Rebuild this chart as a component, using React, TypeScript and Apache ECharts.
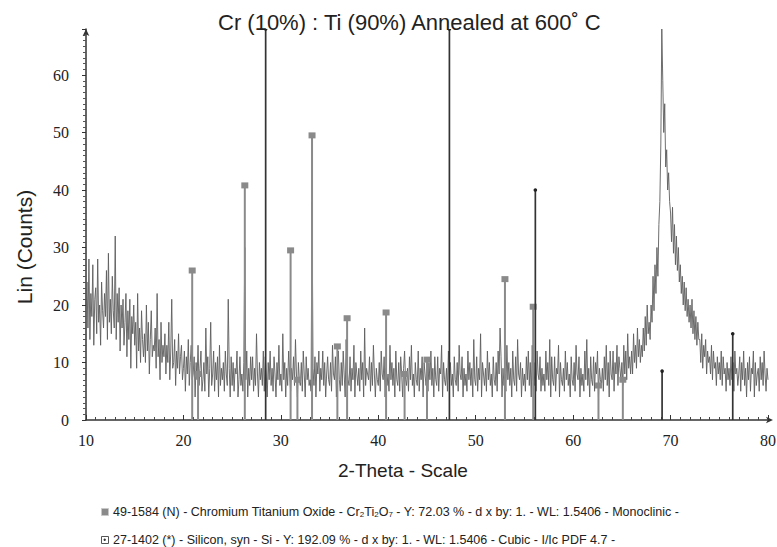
import React, { useEffect, useRef } from "react";
import * as echarts from "echarts";

const TITLE = "Cr (10%) : Ti (90%) Annealed at 600˚ C";
const X_NAME = "2-Theta - Scale";
const Y_NAME = "Lin (Counts)";
const LEGEND_1 = "49-1584 (N) - Chromium Titanium Oxide - Cr{s|2}Ti{s|2}O{s|7} - Y: 72.03 % - d x by: 1. - WL: 1.5406 - Monoclinic -";
const LEGEND_2 = "27-1402 (*) - Silicon, syn - Si - Y: 192.09 % - d x by: 1. - WL: 1.5406 - Cubic - I/Ic PDF 4.7 -";

const X_START = 10;
const X_STEP = 0.1;

// measured counts, 0.1° steps from 10.0 to 80.0 (one row per degree)
const counts: number[] = [
  20, 24, 16, 28, 14, 22, 18, 27, 13, 21,
  23, 15, 28, 17, 20, 13, 24, 19, 16, 22,
  18, 26, 14, 29, 17, 21, 15, 25, 19, 16,
  32, 14, 22, 17, 23, 12, 20, 16, 21, 13,
  17, 22, 11, 19, 14, 21, 9, 18, 15, 20,
  13, 17, 9, 22, 12, 16, 10, 19, 14, 11,
  15, 10, 20, 12, 17, 8, 14, 19, 11, 13,
  12, 16, 9, 22, 11, 14, 7, 17, 10, 13,
  11, 15, 8, 13, 10, 17, 7, 12, 21, 9,
  10, 14, 6, 12, 9, 15, 8, 11, 13, 7,
  9, 12, 5, 11, 8, 14, 6, 10, 13, 7,
  8, 11, 4, 10, 7, 13, 6, 9, 12, 5,
  7, 10, 5, 16, 8, 11, 4, 9, 17, 6,
  8, 12, 5, 10, 7, 11, 4, 13, 6, 9,
  7, 10, 5, 12, 8, 6, 21, 9, 4, 11,
  6, 10, 5, 9, 8, 12, 4, 7, 11, 6,
  8, 5, 10, 30, 7, 12, 4, 9, 6, 11,
  7, 11, 5, 9, 6, 15, 8, 4, 10, 7,
  9, 6, 12, 5, 11, 8, 4, 10, 7, 12,
  6, 9, 5, 11, 8, 4, 10, 7, 13, 6,
  8, 5, 15, 7, 10, 4, 9, 6, 12, 8,
  5, 9, 7, 11, 6, 14, 8, 4, 10, 7,
  6, 10, 5, 12, 8, 4, 11, 7, 9, 6,
  7, 5, 38, 9, 6, 11, 4, 10, 8, 12,
  5, 9, 7, 12, 6, 10, 4, 8, 11, 7,
  6, 10, 5, 13, 8, 7, 11, 4, 9, 12,
  7, 5, 10, 6, 12, 8, 4, 14, 9, 7,
  6, 11, 5, 9, 7, 13, 4, 10, 8, 6,
  9, 5, 12, 7, 10, 4, 16, 6, 9, 8,
  7, 11, 5, 10, 6, 13, 8, 4, 9, 7,
  6, 10, 5, 12, 8, 7, 11, 4, 9, 6,
  8, 5, 13, 7, 10, 6, 9, 4, 12, 7,
  6, 10, 5, 11, 8, 4, 9, 12, 7, 6,
  9, 5, 11, 7, 13, 6, 8, 4, 10, 7,
  6, 12, 5, 9, 7, 11, 4, 10, 8, 6,
  8, 5, 10, 7, 12, 6, 9, 4, 11, 7,
  6, 11, 5, 9, 8, 13, 4, 10, 7, 6,
  9, 5, 12, 7, 10, 6, 8, 4, 11, 7,
  6, 10, 5, 13, 8, 7, 11, 4, 9, 6,
  8, 5, 12, 7, 10, 6, 9, 4, 14, 7,
  6, 11, 5, 9, 7, 15, 4, 10, 8, 6,
  9, 5, 12, 7, 10, 6, 8, 4, 11, 7,
  6, 10, 5, 12, 8, 16, 11, 4, 9, 6,
  8, 5, 13, 7, 10, 6, 9, 4, 12, 7,
  6, 11, 5, 14, 8, 7, 10, 4, 9, 6,
  8, 5, 11, 7, 12, 6, 10, 4, 13, 7,
  6, 10, 5, 12, 8, 7, 11, 5, 9, 6,
  8, 5, 12, 7, 10, 6, 14, 4, 11, 7,
  6, 11, 5, 9, 8, 13, 4, 10, 7, 6,
  9, 5, 12, 7, 10, 6, 8, 4, 11, 7,
  6, 10, 5, 13, 8, 7, 11, 4, 9, 6,
  8, 5, 12, 7, 14, 6, 9, 4, 11, 7,
  6, 11, 5, 10, 8, 12, 4, 9, 7, 6,
  9, 5, 11, 7, 13, 6, 10, 4, 12, 8,
  7, 12, 5, 10, 8, 13, 6, 11, 9, 7,
  10, 6, 13, 8, 12, 7, 15, 9, 11, 8,
  12, 8, 15, 10, 13, 9, 16, 11, 14, 10,
  13, 11, 16, 12, 18, 13, 20, 15, 17, 14,
  20, 17, 25, 19, 27, 22, 30, 25, 34, 38,
  48, 68, 59, 50, 55, 44, 47, 40, 43, 38,
  36, 31, 37, 29, 34, 27, 32, 26, 30, 24,
  27, 22, 25, 20, 24, 19, 23, 18, 21, 17,
  20, 16, 21, 15, 19, 14, 18, 13, 17, 14,
  14, 10, 15, 9, 13, 11, 14, 8, 12, 10,
  11, 8, 13, 7, 12, 9, 10, 6, 11, 8,
  10, 7, 12, 6, 11, 8, 9, 5, 10, 7,
  9, 6, 11, 7, 10, 5, 12, 8, 9, 6,
  8, 11, 5, 10, 7, 12, 6, 9, 4, 10,
  7, 11, 5, 9, 8, 12, 4, 10, 6, 8,
  9, 5, 11, 7, 10, 6, 12, 8, 5, 9,
  7,
];

// reference stick pattern: Cr2Ti2O7 (49-1584)
const crPositions = [20.9, 21.5, 26.3, 31.0, 31.7, 33.2, 35.8, 36.8, 40.8, 42.7, 45.0, 53.0, 55.9, 62.6, 65.1];
const crIntensities = [26, 8, 40.8, 29.5, 7, 49.5, 12.8, 17.7, 18.7, 8, 10.5, 24.5, 19.7, 6, 7];

// reference stick pattern: Si (27-1402)
const siPositions = [28.44, 47.3, 56.12, 69.13, 76.38];
const siIntensities = [68, 68, 40, 8.5, 15];

const Y_TICKS = [0, 10, 20, 30, 40, 50, 60];
const X_TICKS = [10, 20, 30, 40, 50, 60, 70, 80];

export default function App() {
  const ref = useRef<HTMLDivElement>(null);
  useEffect(() => {
    if (!ref.current) return;
    const chart = echarts.init(ref.current, undefined, { renderer: "svg" });
    const lineData = counts.map((c, i) => [X_START + i * X_STEP, c]);
    const crData = crPositions.map((p, i) => [p, crIntensities[i]]);
    const siData = siPositions.map((p, i) => [p, siIntensities[i]]);

    const stick = (color: string, width: number, marker: "square" | "dot") =>
      (params: any, api: any) => {
        const x = api.value(0);
        const y = api.value(1);
        const p0 = api.coord([x, 0]);
        const p1 = api.coord([x, y]);
        const children: any[] = [
          {
            type: "line",
            shape: { x1: p0[0], y1: p0[1], x2: p1[0], y2: p1[1] },
            style: { stroke: color, lineWidth: width },
          },
        ];
        if (marker === "square") {
          children.push({
            type: "rect",
            shape: { x: p1[0] - 3.5, y: p1[1] - 3, width: 7, height: 6 },
            style: { fill: color },
          });
        } else {
          children.push({
            type: "circle",
            shape: { cx: p1[0], cy: p1[1], r: 1.8 },
            style: { fill: "#222" },
          });
        }
        return { type: "group", children };
      };

    const serif = "'Liberation Serif', 'Times New Roman', serif";
    const sans = "'Liberation Sans', Arial, sans-serif";

    chart.setOption({
      animation: false,
      title: {
        text: TITLE,
        left: 213,
        top: 6,
        textStyle: { fontFamily: sans, fontSize: 22, fontWeight: "normal", color: "#222" },
      },
      grid: {
        left: 86,
        right: 9,
        top: 29,
        bottom: 127,
        containLabel: false,
        outerBoundsMode: "none",
      },
      xAxis: {
        type: "value",
        min: X_TICKS[0],
        max: X_TICKS[X_TICKS.length - 1],
        interval: 10,
        axisLine: {
          show: true,
          lineStyle: { color: "#333", width: 1.5 },
          symbol: ["none", "arrow"],
          symbolSize: [5, 7],
          symbolOffset: [0, 5],
        },
        axisTick: { show: true, inside: true, length: 5, lineStyle: { color: "#333" } },
        minorTick: { show: true, splitNumber: 10, length: 3, lineStyle: { color: "#444" } },
        axisLabel: { fontFamily: serif, fontSize: 16, color: "#222", margin: 12 },
        splitLine: { show: false },
      },
      yAxis: {
        type: "value",
        min: 0,
        max: 68,
        interval: 10,
        axisLine: {
          show: true,
          lineStyle: { color: "#333", width: 1.5 },
          symbol: ["none", "arrow"],
          symbolSize: [5, 7],
        },
        axisTick: { show: true, length: 4, lineStyle: { color: "#333" } },
        minorTick: { show: true, splitNumber: 10, length: 3, lineStyle: { color: "#555" } },
        axisLabel: {
          fontFamily: serif,
          fontSize: 16,
          color: "#222",
          margin: 17,
          formatter: (v: number) => (Y_TICKS.includes(v) ? String(v) : ""),
        },
        splitLine: { show: false },
      },
      series: [
        {
          type: "line",
          data: lineData,
          showSymbol: false,
          symbol: "none",
          lineStyle: { color: "#5e5e5e", width: 0.9 },
          clip: true,
          z: 2,
        },
        {
          type: "custom",
          data: crData,
          renderItem: stick("#8a8a8a", 2, "square"),
          clip: true,
          z: 3,
        },
        {
          type: "custom",
          data: siData,
          renderItem: stick("#333333", 1.7, "dot"),
          clip: true,
          z: 4,
        },
      ],
      graphic: [
        {
          type: "text",
          x: 24,
          y: 247,
          rotation: Math.PI / 2,
          style: {
            text: Y_NAME,
            fontFamily: sans,
            fontSize: 21,
            fill: "#222",
            align: "center",
            verticalAlign: "middle",
          },
        },
        {
          type: "text",
          x: 403,
          y: 470,
          style: {
            text: X_NAME,
            fontFamily: sans,
            fontSize: 19,
            fill: "#222",
            align: "center",
            verticalAlign: "middle",
          },
        },
        {
          type: "rect",
          left: 101,
          top: 508,
          shape: { width: 7, height: 7 },
          style: { fill: "#8a8a8a", stroke: "#c8c8c8", lineWidth: 1 },
        },
        {
          type: "text",
          left: 113,
          top: 505,
          style: {
            text: LEGEND_1,
            fontFamily: sans,
            fontSize: 12.5,
            fill: "#222",
            rich: {
              s: { fontFamily: sans, fontSize: 8, fill: "#222", padding: [6, 0, 0, 0] },
            },
          },
        },
        {
          type: "rect",
          left: 101,
          top: 536,
          shape: { width: 7, height: 7 },
          style: { fill: "#fff", stroke: "#555", lineWidth: 1 },
        },
        {
          type: "circle",
          left: 103.5,
          top: 538.5,
          shape: { r: 1.2 },
          style: { fill: "#333" },
        },
        {
          type: "text",
          left: 113,
          top: 533,
          style: {
            text: LEGEND_2,
            fontFamily: sans,
            fontSize: 12.5,
            fill: "#222",
          },
        },
      ],
    });
    return () => chart.dispose();
  }, []);
  return (
    <div
      ref={ref}
      style={{ position: "absolute", left: 0, top: 0, width: 777, height: 547 }}
    />
  );
}
